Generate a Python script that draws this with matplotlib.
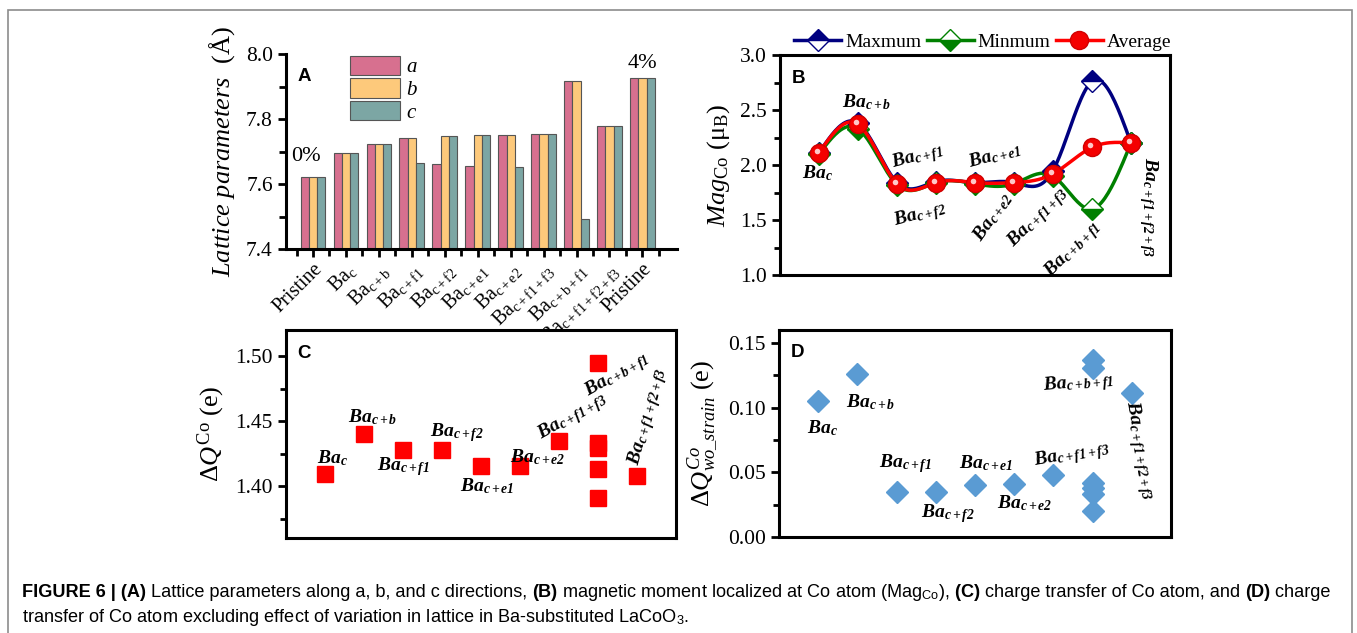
import numpy as np
import matplotlib
matplotlib.use('Agg')
import matplotlib.pyplot as plt
from matplotlib.patches import Patch, Rectangle
from matplotlib.lines import Line2D
from matplotlib import transforms

plt.rcParams['font.family'] = ['Liberation Serif', 'DejaVu Serif']
plt.rcParams['mathtext.fontset'] = 'custom'
plt.rcParams['mathtext.rm'] = 'Liberation Serif'
plt.rcParams['mathtext.it'] = 'Liberation Serif:italic'
plt.rcParams['mathtext.bf'] = 'Liberation Serif:bold:italic'
plt.rcParams['mathtext.sf'] = 'Liberation Sans'

# ---- data ----
groups = ['Pristine', 'Ba$_{\\mathrm{c}}$', 'Ba$_{\\mathrm{c+b}}$', 'Ba$_{\\mathrm{c+f1}}$',
          'Ba$_{\\mathrm{c+f2}}$', 'Ba$_{\\mathrm{c+e1}}$', 'Ba$_{\\mathrm{c+e2}}$',
          'Ba$_{\\mathrm{c+f1+f3}}$', 'Ba$_{\\mathrm{c+b+f1}}$', 'Ba$_{\\mathrm{c+f1+f2+f3}}$', 'Pristine']
lat_a = [7.622, 7.695, 7.722, 7.742, 7.663, 7.655, 7.750, 7.755, 7.917, 7.778, 7.926]
lat_b = [7.622, 7.695, 7.722, 7.742, 7.749, 7.752, 7.750, 7.755, 7.917, 7.778, 7.926]
lat_c = [7.622, 7.695, 7.722, 7.665, 7.749, 7.752, 7.653, 7.755, 7.492, 7.778, 7.926]

cases = ['c', 'c+b', 'c+f1', 'c+f2', 'c+e1', 'c+e2', 'c+f1+f3', 'c+b+f1', 'c+f1+f2+f3']
mag_max = [2.11, 2.38, 1.84, 1.85, 1.84, 1.84, 1.95, 2.76, 2.20]
mag_min = [2.10, 2.33, 1.82, 1.84, 1.83, 1.83, 1.90, 1.60, 2.20]
mag_avg = [2.11, 2.37, 1.83, 1.84, 1.84, 1.84, 1.92, 2.16, 2.20]

# index into cases for each charge point (c+b+f1 has several sites)
dq_case = [0, 1, 2, 3, 4, 5, 6, 7, 7, 7, 7, 7, 8]
dq_co = [1.409, 1.440, 1.4275, 1.4275, 1.4154, 1.4154, 1.4347,
         1.495, 1.433, 1.429, 1.413, 1.391, 1.408]
dq_case_wo = [0, 1, 2, 3, 4, 5, 6, 7, 7, 7, 7, 7, 7, 8]
dq_wo = [0.105, 0.126, 0.035, 0.035, 0.040, 0.041, 0.048,
         0.137, 0.131, 0.042, 0.038, 0.033, 0.020, 0.111]

W, H = 1357, 633
fig = plt.figure(figsize=(W / 100, H / 100), dpi=100)


def box(l, r, t, b):
    return [l / W, 1 - b / H, (r - l) / W, (b - t) / H]


def spline(x, y, n=25):
    # natural cubic spline through the points (drawing only)
    x = np.asarray(x, float); y = np.asarray(y, float)
    m = len(x); h = np.diff(x)
    A = np.zeros((m, m)); r = np.zeros(m)
    A[0, 0] = A[-1, -1] = 1
    for i in range(1, m - 1):
        A[i, i - 1] = h[i - 1]; A[i, i] = 2 * (h[i - 1] + h[i]); A[i, i + 1] = h[i]
        r[i] = 6 * ((y[i + 1] - y[i]) / h[i] - (y[i] - y[i - 1]) / h[i - 1])
    M = np.linalg.solve(A, r)
    xs, ys = [], []
    for i in range(m - 1):
        t = np.linspace(x[i], x[i + 1], n)
        a = x[i + 1] - t; b = t - x[i]
        s = (M[i] * a**3 + M[i + 1] * b**3) / (6 * h[i]) + \
            (y[i] / h[i] - M[i] * h[i] / 6) * a + (y[i + 1] / h[i] - M[i + 1] * h[i] / 6) * b
        xs.append(t); ys.append(s)
    return np.concatenate(xs), np.concatenate(ys)


def ba(s):
    return '$\\mathbf{Ba}_{\\mathbf{' + s + '}}$'


ANN = 14
TICK = 15.5


def style_box(ax):
    for sp in ax.spines.values():
        sp.set_linewidth(2.2)
    ax.tick_params(axis='y', which='major', direction='out', length=6, width=2, labelsize=TICK)
    ax.tick_params(axis='y', which='minor', direction='out', length=4, width=2)
    ax.tick_params(axis='x', bottom=False, labelbottom=False)


def panel_letter(ax, s):
    ax.text(0.03, 0.93, s, transform=ax.transAxes, fontsize=13.5, fontweight='bold',
            family='Liberation Sans', va='top', ha='left')


# ---------------- A ----------------
axA = fig.add_axes(box(286, 677, 54, 249))
x = np.arange(len(groups))
bw = 0.25
cols = ['#D7708F', '#FDC97B', '#7CA6A4']
for k, (vals, c, lab) in enumerate(zip([lat_a, lat_b, lat_c], cols, ['a', 'b', 'c'])):
    axA.bar(x + (k - 1) * bw, np.array(vals) - 7.4, bw, bottom=7.4, color=c,
            edgecolor='#555555', linewidth=0.8, label=lab)
axA.set_ylim(7.4, 8.0)
axA.set_xlim(-0.82, 11.05)
axA.set_yticks([7.4, 7.6, 7.8, 8.0])
axA.set_yticks([7.5, 7.7, 7.9], minor=True)
axA.set_xticks(x)
axA.set_xticks(np.arange(-0.5, 11.01, 1.0), minor=True)
axA.set_xticklabels(groups, rotation=45, ha='right', rotation_mode='anchor')
axA.spines['top'].set_visible(False)
axA.spines['right'].set_visible(False)
axA.spines['left'].set_linewidth(2.2)
axA.spines['bottom'].set_linewidth(2.2)
axA.tick_params(axis='both', which='major', direction='out', length=6, width=2, labelsize=TICK)
axA.tick_params(axis='x', which='major', labelsize=14.5, pad=2)
axA.tick_params(axis='both', which='minor', direction='out', length=5, width=2)
axA.set_ylabel('$\\mathit{Lattice\\ parameters}$  (Å)', fontsize=19, labelpad=6)
axA.text(0.03, 0.93, 'A', transform=axA.transAxes, fontsize=13.5, fontweight='bold',
         family='Liberation Sans', va='top')
axA.text(-0.2, 7.685, '0%', ha='center', va='center', fontsize=16)
axA.text(10, 7.972, '4%', ha='center', va='center', fontsize=16)
axA.legend(loc='upper left', bbox_to_anchor=(0.142, 1.035), frameon=False,
           prop={'style': 'italic', 'size': 15}, handlelength=2.4, handleheight=1.05,
           labelspacing=0.05, handletextpad=0.3, borderaxespad=0)

# ---------------- B ----------------
axB = fig.add_axes(box(780, 1170, 55, 275))
xb = np.arange(1, len(cases) + 1)
sx, sy = spline(xb, mag_max)
axB.plot(sx, sy, color='#000080', lw=2.5, zorder=2)
axB.plot(xb, mag_max, ls='none', marker='D', ms=11, fillstyle='top', mfc='#000080',
         mfcalt='white', mec='#000080', mew=1, zorder=3)
sx, sy = spline(xb, mag_min)
axB.plot(sx, sy, color='#008000', lw=2.5, zorder=2)
axB.plot(xb, mag_min, ls='none', marker='D', ms=11, fillstyle='bottom', mfc='#008000',
         mfcalt='white', mec='#008000', mew=1, zorder=3)
sx, sy = spline(xb, mag_avg)
axB.plot(sx, sy, color='#FF0000', lw=2.5, zorder=4)
axB.plot(xb, mag_avg, ls='none', marker='o', ms=13, mfc='#F40000', mec='#D00000', zorder=5)
hl = transforms.offset_copy(axB.transData, fig=fig, x=-1.5, y=1.5, units='points')
axB.plot(xb, mag_avg, ls='none', marker='o', ms=4, mfc='#FFC8C8', mec='none', zorder=6,
         transform=hl)
axB.set_xlim(0, 10)
axB.set_ylim(1.0, 3.0)
axB.set_yticks([1.0, 1.5, 2.0, 2.5, 3.0])
axB.set_yticks(np.arange(1.25, 3.0, 0.5), minor=True)
style_box(axB)
axB.set_ylabel('$Mag_{\\mathrm{Co}}$ (μ$_{\\mathrm{B}}$)', fontsize=19, labelpad=6)
panel_letter(axB, 'B')
h_max = Line2D([], [], color='#000080', lw=2.5, marker='D', ms=11, fillstyle='top',
               mfc='#000080', mfcalt='white', mec='#000080')
h_min = Line2D([], [], color='#008000', lw=2.5, marker='D', ms=11, fillstyle='bottom',
               mfc='#008000', mfcalt='white', mec='#008000')
h_avg = Line2D([], [], color='#FF0000', lw=2.5, marker='o', ms=13, mfc='#F40000', mec='#D00000')
axB.legend([h_max, h_min, h_avg], ['Maxmum', 'Minmum', 'Average'], loc='lower center',
           bbox_to_anchor=(0.52, 0.985), ncol=3, frameon=False, fontsize=14,
           handlelength=2.4, columnspacing=0.3, handletextpad=0.2, borderaxespad=0)
b_labels = [(0.97, 1.93, 0), (2.23, 2.57, 0), (3.54, 2.07, 15), (3.59, 1.55, 15),
            (5.51, 2.09, 15), (5.46, 1.53, 55), (6.62, 1.52, 45), (7.51, 1.23, 45),
            (9.44, 1.62, -90)]
for s, (tx, ty, rot) in zip(cases, b_labels):
    axB.text(tx, ty, ba(s), ha='center', va='center', rotation=rot, fontsize=ANN)

# ---------------- C ----------------
axC = fig.add_axes(box(286, 676, 330, 538))
axC.plot(np.array(dq_case) + 1, dq_co, ls='none', marker='s', ms=11.5, color='#FF0000',
         mec='#FF0000')
axC.set_xlim(0, 10)
axC.set_ylim(1.36, 1.52)
axC.set_yticks([1.40, 1.45, 1.50])
axC.set_yticks([1.375, 1.425, 1.475], minor=True)
axC.yaxis.set_major_formatter(matplotlib.ticker.FormatStrFormatter('%.2f'))
style_box(axC)
axC.set_ylabel('$\\mathit{ΔQ}^{\\mathrm{Co}}$ (e)', fontsize=19, labelpad=6)
panel_letter(axC, 'C')
c_labels = [(1.18, 1.4215, 0), (2.23, 1.453, 0), (3.0, 1.4146, 0), (4.38, 1.4408, 0),
            (5.15, 1.400, 0), (6.46, 1.422, 0), (7.36, 1.453, 30), (8.49, 1.485, 30),
            (9.28, 1.453, 75)]
for s, (tx, ty, rot) in zip(cases, c_labels):
    axC.text(tx, ty, ba(s), ha='center', va='center', rotation=rot, fontsize=ANN)

# ---------------- D ----------------
axD = fig.add_axes(box(779, 1171, 330, 537))
axD.plot(np.array(dq_case_wo) + 1, dq_wo, ls='none', marker='D', ms=11, color='#5A9BD3',
         mec='#5A9BD3')
axD.set_xlim(0, 10)
axD.set_ylim(0, 0.16)
axD.set_yticks([0.0, 0.05, 0.10, 0.15])
axD.set_yticks([0.025, 0.075, 0.125], minor=True)
axD.yaxis.set_major_formatter(matplotlib.ticker.FormatStrFormatter('%.2f'))
style_box(axD)
axD.set_ylabel('$\\mathit{ΔQ}^{Co}_{wo\\_strain}$ (e)', fontsize=19, labelpad=6)
panel_letter(axD, 'D')
d_labels = [(1.10, 0.084, 0), (2.33, 0.104, 0), (3.23, 0.057, 0), (4.31, 0.0185, 0),
            (5.28, 0.057, 0), (6.26, 0.026, 0), (7.46, 0.063, 10), (7.64, 0.119, 5),
            (9.18, 0.067, -80)]
for s, (tx, ty, rot) in zip(cases, d_labels):
    axD.text(tx, ty, ba(s), ha='center', va='center', rotation=rot, fontsize=ANN)

# ---------------- frame and caption ----------------
fig.patches.append(Rectangle((8 / W, -0.05), (1352 - 8) / W, 1.05 - 10 / H,
                             transform=fig.transFigure, fill=False, edgecolor='#8C8C8C',
                             linewidth=1.2))

cap_family = ['Liberation Sans Narrow', 'Liberation Sans']
line1 = [('FIGURE 6 | (A)', True), (' Lattice parameters along a, b, and c directions, ', False),
         ('(B)', True), (' magnetic moment localized at Co atom (Mag$_{\\mathsf{Co}}$),', False),
         (' (C)', True), (' charge transfer of Co atom, and ', False), ('(D)', True),
         (' charge', False)]
line2 = [('transfer of Co atom excluding effect of variation in lattice in Ba-substituted '
          'LaCoO$_{\\mathsf{3}}$.', False)]


def rich_line(parts, x0, y0, size):
    renderer = fig.canvas.get_renderer()
    xx = x0
    made = []
    for txt, bold in parts:
        t = fig.text(xx, y0, txt, fontsize=size, fontweight='bold' if bold else 'normal',
                     family=cap_family, va='baseline', ha='left')
        made.append(t)
        xx += t.get_window_extent(renderer).width / W
    return made, (xx - x0) * W


made, width = rich_line(line1, 22 / W, 1 - 597 / H, 12)
for t in made:
    t.remove()
size = 12 * 1316 / width
rich_line(line1, 22 / W, 1 - 597 / H, size)
rich_line(line2, 22 / W, 1 - 622 / H, size)

fig.savefig('out.png', dpi=100)
